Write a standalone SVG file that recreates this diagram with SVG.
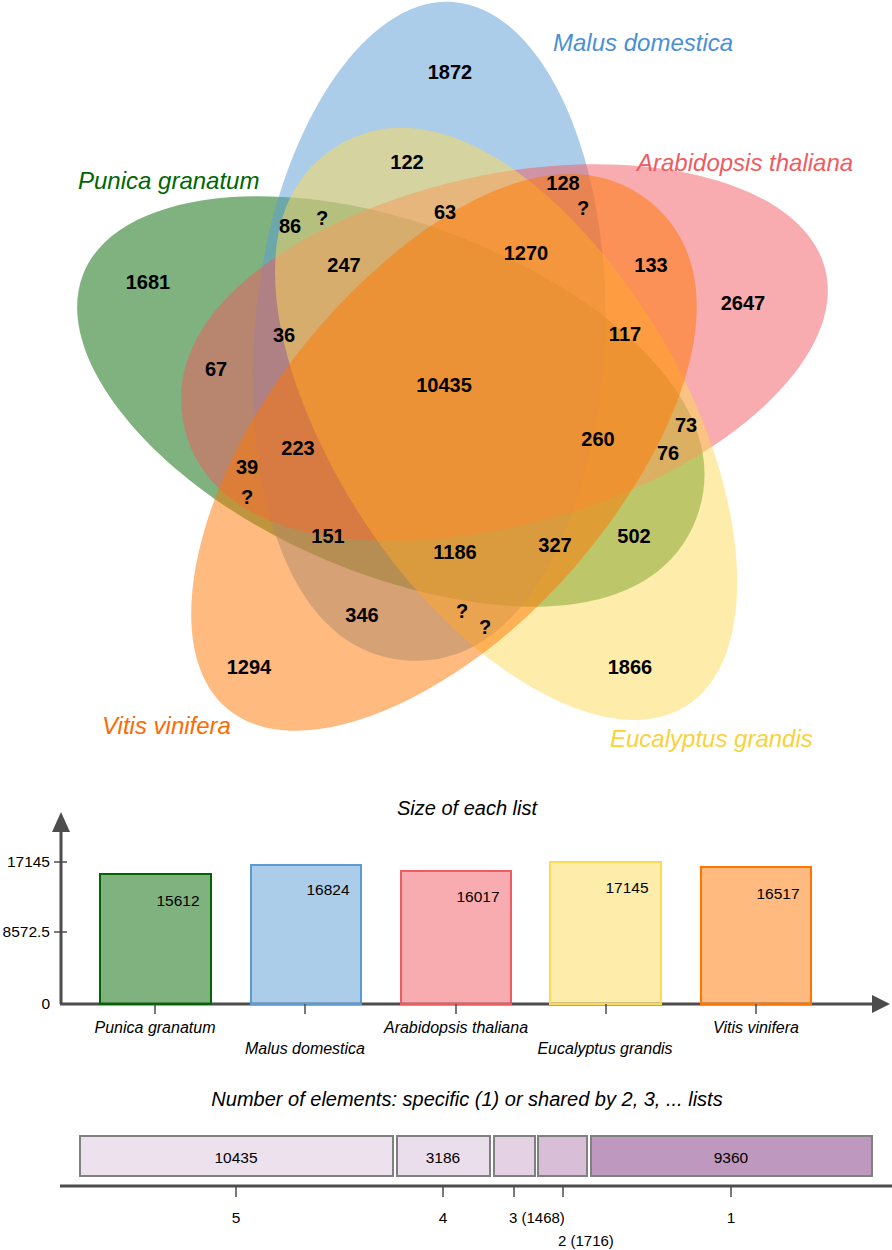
<svg xmlns="http://www.w3.org/2000/svg" width="892" height="1250" viewBox="0 0 892 1250">
<style>
.set{fill-opacity:0.5;stroke:none}
.num{font-family:"Liberation Sans",Arial,sans-serif;font-weight:bold;font-size:20px;text-anchor:middle;fill:#000}
.lbl{font-family:"Liberation Sans",Arial,sans-serif;font-style:italic;font-size:24px}
.ttl{font-family:"Liberation Sans",Arial,sans-serif;font-style:italic;font-size:20px;text-anchor:middle;fill:#000}
.ax{font-family:"Liberation Sans",Arial,sans-serif;font-size:15px;fill:#000}
.axr{font-family:"Liberation Sans",Arial,sans-serif;font-size:15.5px;fill:#000;text-anchor:end}
.axm{font-family:"Liberation Sans",Arial,sans-serif;font-size:15.5px;fill:#000;text-anchor:middle}
.axi{font-family:"Liberation Sans",Arial,sans-serif;font-size:16px;font-style:italic;fill:#000;text-anchor:middle}
.axis{stroke:#4d4d4d;stroke-width:3;fill:none}
.tick{stroke:#4d4d4d;stroke-width:1.5;fill:none}
.bar{stroke-width:2;fill-opacity:0.5}
.seg{stroke:#808080;stroke-width:2}
</style>
<defs>
<path id="egg" d="M0,0 C95,0 175,160 175,340 C175,500 120,660 0,660 C-120,660 -175,500 -175,340 C-175,160 -95,0 0,0 Z"/>
</defs>

<g id="set-punica">
<use href="#egg" class="set" fill="#006600" transform="rotate(-72 455 392) translate(453 2) rotate(4)"/>
</g>
<g id="set-malus">
<use href="#egg" class="set" fill="#5a9bd4" transform="translate(453 2) rotate(4)"/>
</g>
<g id="set-arabidopsis">
<use href="#egg" class="set" fill="#f15a60" transform="rotate(72 455 392) translate(453 2) rotate(4)"/>
</g>
<g id="set-eucalyptus">
<use href="#egg" class="set" fill="#fdd955" transform="rotate(144 455 392) translate(453 2) rotate(4)"/>
</g>
<g id="set-vitis">
<use href="#egg" class="set" fill="#ff7500" transform="rotate(216 455 392) translate(453 2) rotate(4)"/>
</g>

<g id="set-labels">
<text class="lbl" x="78" y="189" fill="#006600">Punica granatum</text>
<text class="lbl" x="553" y="51" fill="#4a90d4">Malus domestica</text>
<text class="lbl" x="637" y="171" fill="#f15a60">Arabidopsis thaliana</text>
<text class="lbl" x="102" y="734" fill="#ff6a00">Vitis vinifera</text>
<text class="lbl" x="610" y="747" fill="#f7d23a">Eucalyptus grandis</text>
</g>

<g id="counts">
<text class="num" x="450" y="79">1872</text>
<text class="num" x="407" y="169">122</text>
<text class="num" x="563" y="190">128</text>
<text class="num" x="583" y="215">?</text>
<text class="num" x="290" y="233">86</text>
<text class="num" x="322" y="225">?</text>
<text class="num" x="445" y="219">63</text>
<text class="num" x="344" y="272">247</text>
<text class="num" x="526" y="260">1270</text>
<text class="num" x="651" y="272">133</text>
<text class="num" x="148" y="289">1681</text>
<text class="num" x="743" y="310">2647</text>
<text class="num" x="284" y="342">36</text>
<text class="num" x="625" y="341">117</text>
<text class="num" x="216" y="376">67</text>
<text class="num" x="444" y="392">10435</text>
<text class="num" x="298" y="455">223</text>
<text class="num" x="247" y="474">39</text>
<text class="num" x="247" y="504">?</text>
<text class="num" x="598" y="446">260</text>
<text class="num" x="686" y="432">73</text>
<text class="num" x="668" y="460">76</text>
<text class="num" x="328" y="543">151</text>
<text class="num" x="455" y="559">1186</text>
<text class="num" x="555" y="552">327</text>
<text class="num" x="634" y="543">502</text>
<text class="num" x="362" y="622">346</text>
<text class="num" x="462" y="618">?</text>
<text class="num" x="485" y="634">?</text>
<text class="num" x="249" y="674">1294</text>
<text class="num" x="630" y="674">1866</text>
</g>

<g id="size-chart">
<text class="ttl" x="467" y="815">Size of each list</text>
<line class="axis" x1="61" y1="1004" x2="61" y2="828"/>
<polygon points="61,812 52,832 70,832" fill="#4d4d4d"/>
<line class="axis" x1="60" y1="1004" x2="874" y2="1004"/>
<polygon points="890,1004 872,995 872,1013" fill="#4d4d4d"/>
<line class="tick" x1="54" y1="862" x2="67" y2="862"/>
<line class="tick" x1="54" y1="932" x2="67" y2="932"/>
<text class="axr" x="50" y="867">17145</text>
<text class="axr" x="50" y="937">8572.5</text>
<text class="axr" x="50" y="1009">0</text>
<g id="bar-punica">
<rect class="bar" x="100" y="874" width="111" height="130" fill="#006600" stroke="#006600"/>
<text class="axm" x="178" y="906">15612</text>
</g>
<g id="bar-malus">
<rect class="bar" x="251" y="865" width="110" height="139" fill="#5a9bd4" stroke="#5a9bd4"/>
<text class="axm" x="328" y="895">16824</text>
</g>
<g id="bar-arabidopsis">
<rect class="bar" x="401" y="871" width="110" height="133" fill="#f15a60" stroke="#f15a60"/>
<text class="axm" x="478" y="902">16017</text>
</g>
<g id="bar-eucalyptus">
<rect class="bar" x="550" y="862" width="111" height="142" fill="#fdd955" stroke="#fdd955"/>
<text class="axm" x="627" y="893">17145</text>
</g>
<g id="bar-vitis">
<rect class="bar" x="701" y="867" width="110" height="137" fill="#ff7500" stroke="#ff7500"/>
<text class="axm" x="778" y="899">16517</text>
</g>
<line class="tick" x1="155" y1="1004" x2="155" y2="1014"/>
<line class="tick" x1="305" y1="1004" x2="305" y2="1014"/>
<line class="tick" x1="456" y1="1004" x2="456" y2="1014"/>
<line class="tick" x1="606" y1="1004" x2="606" y2="1014"/>
<line class="tick" x1="756" y1="1004" x2="756" y2="1014"/>
<text class="axi" x="155" y="1033">Punica granatum</text>
<text class="axi" x="456" y="1033">Arabidopsis thaliana</text>
<text class="axi" x="756" y="1033">Vitis vinifera</text>
<text class="axi" x="305" y="1054">Malus domestica</text>
<text class="axi" x="605" y="1054">Eucalyptus grandis</text>
</g>

<g id="shared-chart">
<text class="ttl" x="467" y="1106">Number of elements: specific (1) or shared by 2, 3, ... lists</text>
<g id="seg-5"><rect class="seg" x="80" y="1136" width="313" height="40" fill="#ede1ed"/><text class="axm" x="236" y="1163">10435</text></g>
<g id="seg-4"><rect class="seg" x="397" y="1136" width="93" height="40" fill="#ebdeec"/><text class="axm" x="443" y="1163">3186</text></g>
<g id="seg-3"><rect class="seg" x="494" y="1136" width="41" height="40" fill="#e4d2e4"/></g>
<g id="seg-2"><rect class="seg" x="538" y="1136" width="49" height="40" fill="#d8bed7"/></g>
<g id="seg-1"><rect class="seg" x="591" y="1136" width="281" height="40" fill="#be98be"/><text class="axm" x="731" y="1163">9360</text></g>
<line class="axis" x1="60" y1="1186" x2="892" y2="1186"/>
<line class="tick" x1="236" y1="1186" x2="236" y2="1197"/>
<line class="tick" x1="443" y1="1186" x2="443" y2="1197"/>
<line class="tick" x1="514" y1="1186" x2="514" y2="1197"/>
<line class="tick" x1="563" y1="1186" x2="563" y2="1197"/>
<line class="tick" x1="731" y1="1186" x2="731" y2="1197"/>
<text class="axm" x="236" y="1223">5</text>
<text class="axm" x="443" y="1223">4</text>
<text class="ax" x="509" y="1223">3 (1468)</text>
<text class="ax" x="558" y="1246">2 (1716)</text>
<text class="axm" x="731" y="1223">1</text>
</g>
</svg>
